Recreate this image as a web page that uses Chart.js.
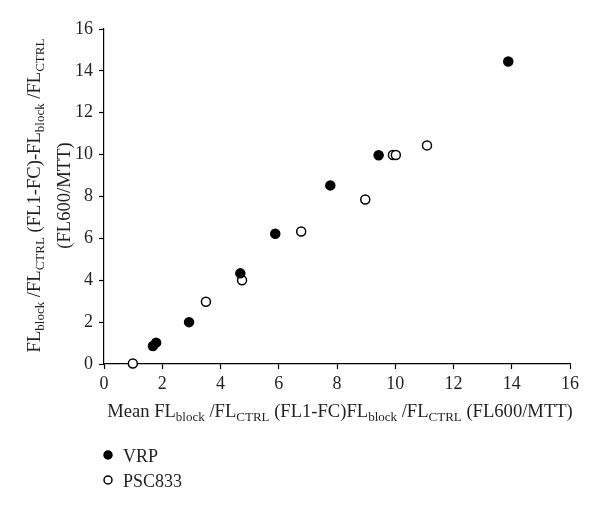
<!DOCTYPE html>
<html>
<head>
<meta charset="utf-8">
<script src="https://cdn.jsdelivr.net/npm/chart.js@4/dist/chart.umd.min.js"></script>
<style>
  html, body { margin: 0; padding: 0; background: #fff; }
  #wrap { width: 600px; height: 512px; }
</style>
</head>
<body>
<div id="wrap"><canvas id="myChart" width="600" height="512"></canvas></div>
<script>
'use strict'

// values
const vrpX = [1.68, 1.79, 2.92, 4.68, 5.88, 7.77, 9.43, 13.88]
const vrpY = [0.86, 1.02, 2.0, 4.33, 6.22, 8.53, 9.97, 14.45]
const pscX = [0.99, 3.5, 4.74, 6.77, 8.97, 9.92, 10.02, 11.09]
const pscY = [0.02, 2.97, 4.0, 6.33, 7.86, 9.98, 9.98, 10.44]
const seriesNames = ['VRP', 'PSC833']
const axisMin = 0
const axisMax = 16
const axisStep = 2

// title pieces: [text, isSubscript]
const xTitle = [['Mean FL', 0], ['block', 1], [' /FL', 0], ['CTRL', 1], [' (FL1-FC)FL', 0], ['block', 1], [' /FL', 0], ['CTRL', 1], [' (FL600/MTT)', 0]]
const yTitle1 = [['FL', 0], ['block', 1], [' /FL', 0], ['CTRL', 1], [' (FL1-FC)-FL', 0], ['block', 1], [' /FL', 0], ['CTRL', 1]]
const yTitle2 = [['(FL600/MTT)', 0]]

const FONT = '"Liberation Serif", "DejaVu Serif", serif'
const mainFont = '18.6px ' + FONT
const subFont = '13px ' + FONT

function pts(xs, ys) {
	return xs.map((x, i) => ({ x: x, y: ys[i] }))
}

function partsWidth(ctx, parts) {
	let w = 0
	parts.forEach(p => {
		ctx.font = p[1] ? subFont : mainFont
		w += ctx.measureText(p[0]).width
	})
	return w
}

function drawParts(ctx, parts, x, y) {
	ctx.textAlign = 'left'
	ctx.textBaseline = 'alphabetic'
	parts.forEach(p => {
		ctx.font = p[1] ? subFont : mainFont
		ctx.fillText(p[0], x, y + (p[1] ? 4 : 0))
		x += ctx.measureText(p[0]).width
	})
}

const titlesPlugin = {
	id: 'titles',
	afterDraw(chart) {
		const ctx = chart.ctx
		const a = chart.chartArea
		ctx.save()
		ctx.fillStyle = '#231f20'
		// x title
		const xw = partsWidth(ctx, xTitle)
		drawParts(ctx, xTitle, (a.left + a.right) / 2 - xw / 2 + 3, 417)
		// y title, rotated
		const cy = (a.top + a.bottom) / 2 - 1
		;[[yTitle1, 40], [yTitle2, 70]].forEach(l => {
			ctx.save()
			ctx.translate(l[1], cy)
			ctx.rotate(-Math.PI / 2)
			const w = partsWidth(ctx, l[0])
			drawParts(ctx, l[0], -w / 2, 0)
			ctx.restore()
		})
		// legend
		chart.data.datasets.forEach((ds, i) => {
			const y = 455 + i * 25
			ctx.beginPath()
			ctx.arc(108, y, 4, 0, Math.PI * 2)
			ctx.fillStyle = ds.backgroundColor
			ctx.fill()
			ctx.lineWidth = 1.5
			ctx.strokeStyle = '#000'
			ctx.stroke()
			ctx.fillStyle = '#231f20'
			ctx.font = '18px ' + FONT
			ctx.textAlign = 'left'
			ctx.textBaseline = 'alphabetic'
			ctx.fillText(ds.label, 123, y + 7)
		})
		ctx.restore()
	}
}

const axisStyle = {
	type: 'linear',
	min: axisMin,
	max: axisMax,
	border: { display: true, color: '#000', width: 1.2 },
	grid: { drawOnChartArea: false, drawTicks: true, tickLength: 5, color: '#000', tickWidth: 1.2 },
	ticks: { stepSize: axisStep, color: '#231f20', font: { family: FONT, size: 18 }, padding: 4 }
}

new Chart(document.querySelector('#myChart'), {
	type: 'scatter',
	data: {
		datasets: [
			{
				label: seriesNames[0],
				data: pts(vrpX, vrpY),
				backgroundColor: '#000',
				borderColor: '#000',
				borderWidth: 1.5,
				pointRadius: 4.5,
				clip: false
			},
			{
				label: seriesNames[1],
				data: pts(pscX, pscY),
				backgroundColor: '#fff',
				borderColor: '#000',
				borderWidth: 1.5,
				pointRadius: 4.5,
				clip: false
			}
		]
	},
	options: {
		responsive: false,
		animation: false,
		layout: { padding: { left: 0, top: 29, right: 30, bottom: 0 } },
		plugins: { legend: { display: false }, tooltip: { enabled: false } },
		scales: {
			x: Object.assign({}, axisStyle, {
				afterFit(scale) { scale.height = 512 - 364 }
			}),
			y: Object.assign({}, axisStyle, {
				ticks: Object.assign({}, axisStyle.ticks, { padding: 6 }),
				afterFit(scale) { scale.width = 104 }
			})
		}
	},
	plugins: [titlesPlugin]
})
</script>
</body>
</html>
